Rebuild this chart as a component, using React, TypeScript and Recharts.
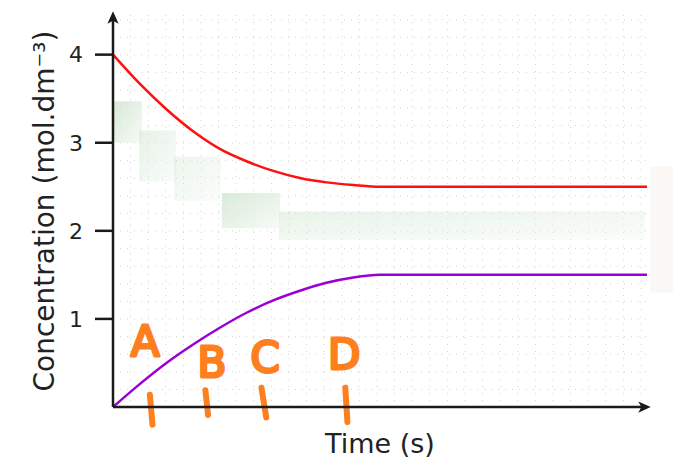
import React from 'react';
import {
  ComposedChart, Line, Scatter, XAxis, YAxis, CartesianGrid,
  ReferenceArea, ReferenceLine, Label,
} from 'recharts';

// time samples (s) and concentrations
const times = [0, 0.5, 1, 1.5, 2, 2.5, 3, 3.5, 4, 4.5, 5, 10];
const reactant = [4, 3.67, 3.38, 3.13, 2.93, 2.79, 2.68, 2.6, 2.55, 2.52, 2.5, 2.5];
const product = [0, 0.26, 0.5, 0.71, 0.9, 1.07, 1.21, 1.32, 1.41, 1.47, 1.5, 1.5];

const yTicks = [1, 2, 3, 4];

// hand-drawn orange markers
const markLetters = ['A', 'B', 'C', 'D'];
const markLetterT = [0.6, 1.85, 2.85, 4.33];
const markLetterC = [0.74, 0.51, 0.56, 0.6];
const markTickTopT = [0.69, 1.73, 2.78, 4.35];
const markTickBottomT = [0.74, 1.78, 2.87, 4.39];
const markTickTopC = [0.14, 0.19, 0.22, 0.22];
const markTickBottomC = [-0.2, -0.09, -0.12, -0.17];

// faint green smudges behind the curves
const smudgeT1 = [0, 0.49, 1.14, 2.04, 3.11];
const smudgeT2 = [0.54, 1.18, 2.02, 3.13, 9.96];
const smudgeC1 = [3.0, 2.56, 2.34, 2.03, 1.9];
const smudgeC2 = [3.47, 3.14, 2.84, 2.43, 2.22];
const smudgeAlpha = [0.75, 0.45, 0.35, 0.7, 0.4];

const data = times.map((t, i) => ({ t, reactant: reactant[i], product: product[i] }));
const letters = markLetters.map((label, i) => ({ t: markLetterT[i], c: markLetterC[i], label }));

const ORANGE = '#fd7f1e';
const INK = '#1a1a1a';
const FONT = '"DejaVu Sans", sans-serif';
const GRID_STEP = 17.6;
const Y_TICK_LEN = 0.337; // ~18px in time units

const LetterShape = (props: any) => {
  const { cx, cy, payload } = props;
  return (
    <text
      x={cx}
      y={cy}
      textAnchor="middle"
      dominantBaseline="central"
      fontFamily={FONT}
      fontSize={42}
      fill={ORANGE}
      stroke={ORANGE}
      strokeWidth={3}
      strokeLinejoin="round"
    >
      {payload.label}
    </text>
  );
};

const MarkTick = (props: any) => {
  const { x1, y1, x2, y2 } = props;
  return <line x1={x1} y1={y1} x2={x2} y2={y2} stroke={ORANGE} strokeWidth={6} strokeLinecap="round" />;
};

const hGrid = ({ offset }: any) => {
  const out: number[] = [];
  for (let y = offset.top + offset.height; y > offset.top; y -= GRID_STEP) out.push(y);
  return out;
};
const vGrid = ({ offset }: any) => {
  const out: number[] = [];
  for (let x = offset.left; x < offset.left + offset.width; x += GRID_STEP) out.push(x);
  return out;
};

export default function App() {
  return (
    <div style={{ position: 'absolute', left: 0, top: 0, background: '#fff' }}>
      <ComposedChart width={673} height={461} data={data} margin={{ top: 15, right: 26, bottom: 0, left: 0 }}>
        <defs>
          <marker id="axisArrow" viewBox="0 0 10 10" refX="7" refY="5" markerWidth="5" markerHeight="5" orient="auto-start-reverse">
            <path d="M0,0.5 L10,5 L0,9.5 L2.5,5 z" fill={INK} />
          </marker>
          <linearGradient id="smudge" x1="0" y1="0" x2="1" y2="1">
            <stop offset="0%" stopColor="#c9e2c9" />
            <stop offset="100%" stopColor="#f4f9f4" />
          </linearGradient>
        </defs>
        <CartesianGrid
          stroke="#d4d4d4"
          strokeDasharray="1 6"
          horizontalCoordinatesGenerator={hGrid}
          verticalCoordinatesGenerator={vGrid}
        />
        {smudgeT1.map((t1, i) => (
          <ReferenceArea
            key={'s' + i}
            x1={t1}
            x2={smudgeT2[i]}
            y1={smudgeC1[i]}
            y2={smudgeC2[i]}
            fill="url(#smudge)"
            fillOpacity={smudgeAlpha[i]}
            stroke="none"
          />
        ))}
        <ReferenceArea x1={10.06} x2={10.5} y1={1.3} y2={2.73} fill="#f7f1ef" fillOpacity={0.6} stroke="none" ifOverflow="visible" />
        <XAxis
          dataKey="t"
          type="number"
          domain={[0, 10]}
          tick={false}
          tickLine={false}
          height={54}
          axisLine={{ stroke: INK, strokeWidth: 2.5, markerEnd: 'url(#axisArrow)' }}
        >
          <Label value="Time (s)" position="insideBottom" offset={8} style={{ fontFamily: FONT, fontSize: 27, fill: '#222' }} />
        </XAxis>
        <YAxis
          type="number"
          domain={[0, 4.45]}
          ticks={yTicks}
          width={113}
          tick={false}
          tickLine={false}
          axisLine={{ stroke: INK, strokeWidth: 2.5, markerStart: 'url(#axisArrow)' }}
          allowDataOverflow
        >
          <Label
            value="Concentration (mol.dm⁻³)"
            angle={-90}
            position="insideLeft"
            offset={44}
            style={{ fontFamily: FONT, fontSize: 28, fill: '#222', textAnchor: 'middle' }}
          />
        </YAxis>
        {yTicks.map((v) => (
          <ReferenceLine
            key={'y' + v}
            segment={[{ x: -Y_TICK_LEN, y: v }, { x: 0, y: v }]}
            stroke={INK}
            strokeWidth={2.5}
            ifOverflow="visible"
            label={{ value: String(v), position: 'left', offset: 12, style: { fontFamily: FONT, fontSize: 22, fill: '#222' } }}
          />
        ))}
        <Line type="monotone" dataKey="reactant" stroke="#ff1010" strokeWidth={2.5} dot={false} isAnimationActive={false} />
        <Line type="monotone" dataKey="product" stroke="#9a00d6" strokeWidth={2.5} dot={false} isAnimationActive={false} />
        {markTickTopT.map((t, i) => (
          <ReferenceLine
            key={'m' + i}
            segment={[{ x: t, y: markTickTopC[i] }, { x: markTickBottomT[i], y: markTickBottomC[i] }]}
            shape={<MarkTick />}
            ifOverflow="visible"
          />
        ))}
        <Scatter data={letters} dataKey="c" shape={<LetterShape />} isAnimationActive={false} />
      </ComposedChart>
    </div>
  );
}
